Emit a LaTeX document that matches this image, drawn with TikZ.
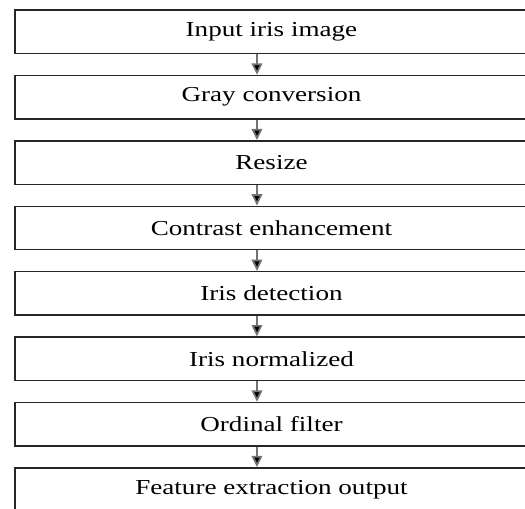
\documentclass[tikz,border=0pt]{standalone}
\usepackage{fontspec}
\setmainfont[FakeStretch=1.27]{Liberation Serif}
\usetikzlibrary{arrows.meta}
\begin{document}
\begin{tikzpicture}[x=0.75pt, y=-0.75pt, box_style/.style={rectangle,draw=black!85,line width=1.1pt,minimum width=384.75pt,minimum height=32.6pt,inner sep=0pt,font=\fontsize{16}{19}\selectfont},edge_style/.style={draw=black!55, line width=1.3pt,-{Triangle[width=8pt,length=8.5pt,fill=black]}}]
      \useasboundingbox (0,0) rectangle (525,508);
      \clip (0,0) rectangle (525,508);
      \draw
        (271.5, 31.8) node[box_style] (input){Input iris image}
        (271.5, 97.2) node[box_style] (gray){Gray conversion}
        (271.5, 162.6) node[box_style] (resize){Resize}
        (271.5, 228.0) node[box_style] (contrast){Contrast enhancement}
        (271.5, 293.4) node[box_style] (detect){Iris detection}
        (271.5, 358.8) node[box_style] (norm){Iris normalized}
        (271.5, 424.2) node[box_style] (ordinal){Ordinal filter}
        (271.5, 489.6) node[box_style] (feature){Feature extraction output};
      \begin{scope}
        \draw[edge_style] ([xshift=-10.9pt]input.south) to ([xshift=-10.9pt]gray.north);
        \draw[edge_style] ([xshift=-10.9pt]gray.south) to ([xshift=-10.9pt]resize.north);
        \draw[edge_style] ([xshift=-10.9pt]resize.south) to ([xshift=-10.9pt]contrast.north);
        \draw[edge_style] ([xshift=-10.9pt]contrast.south) to ([xshift=-10.9pt]detect.north);
        \draw[edge_style] ([xshift=-10.9pt]detect.south) to ([xshift=-10.9pt]norm.north);
        \draw[edge_style] ([xshift=-10.9pt]norm.south) to ([xshift=-10.9pt]ordinal.north);
        \draw[edge_style] ([xshift=-10.9pt]ordinal.south) to ([xshift=-10.9pt]feature.north);
      \end{scope}
    \end{tikzpicture}
\end{document}
